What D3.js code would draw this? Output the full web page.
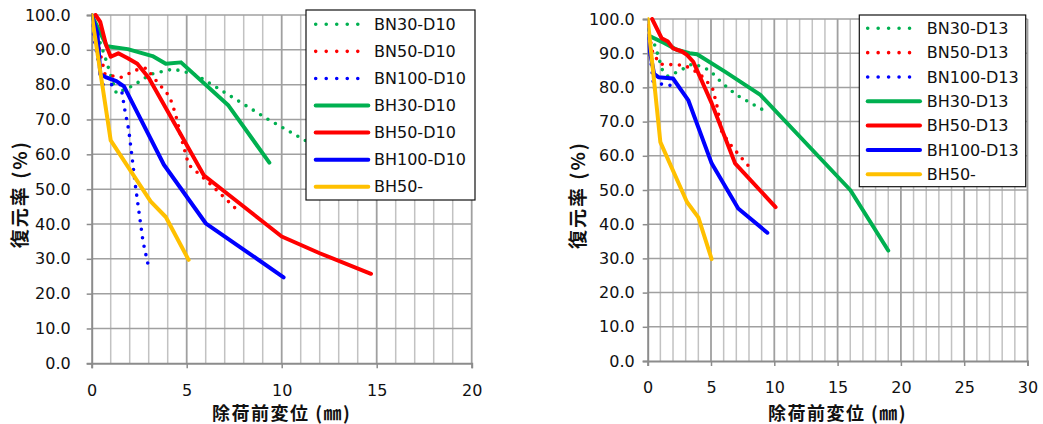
<!DOCTYPE html>
<html>
<head>
<meta charset="utf-8">
<script src="https://cdn.jsdelivr.net/npm/d3@7"></script>
<style>
  body { margin: 0; background: #fff; }
  svg { display: block; }
  .tick text { font-family: "DejaVu Sans", sans-serif; font-size: 16px; fill: #111; }
  .legend text { font-family: "DejaVu Sans", sans-serif; font-size: 16px; fill: #111; }
  .title { font-family: "Noto Sans CJK JP", sans-serif; font-weight: bold; fill: #111; }
</style>
</head>
<body>
<div class="charts"></div>
<script>
// --- data (x: 除荷前変位 mm, y: 復元率 %) ---
var yTicks = [0, 10, 20, 30, 40, 50, 60, 70, 80, 90, 100]
var xTicksLeft = [0, 5, 10, 15, 20]
var xTicksRight = [0, 5, 10, 15, 20, 25, 30]

var namesLeft = ["BN30-D10", "BN50-D10", "BN100-D10", "BH30-D10", "BH50-D10", "BH100-D10", "BH50-"]
var namesRight = ["BN30-D13", "BN50-D13", "BN100-D13", "BH30-D13", "BH50-D13", "BH100-D13", "BH50-"]
var colors = ["#00b050", "#ff0000", "#0000ff", "#00b050", "#ff0000", "#0000ff", "#ffc000"]
var dotted = [true, true, true, false, false, false, false]

var bn30_d10 = [[0,99],[0.7,88],[1.3,77.5],[2.2,79.8],[3.1,83],[4.3,84.5],[5.5,82.8],[9.3,70],[11.3,63.8]]
var bn50_d10 = [[0,100],[0.7,83],[1.5,82],[2.4,84.3],[2.9,84.8],[3.2,82.4],[4.1,76.6],[4.4,71.8],[4.75,64],[5.1,57],[6.2,51.7],[7.6,44.3]]
var bn100_d10 = [[0,97],[0.3,88],[0.6,80],[1.5,80],[1.6,77.5],[1.75,72.5],[1.95,67],[2.15,58],[2.3,51],[2.5,43],[2.7,35],[3.0,27.5]]
var bh30_d10 = [[0,100],[0.8,91],[1.9,90.2],[3.2,88.2],[3.9,86],[4.7,86.4],[7.2,74],[9.35,57.6]]
var bh50_d10 = [[0.2,100],[0.45,98],[0.75,91.5],[1,88],[1.4,89],[1.9,87.6],[2.4,86],[3,82],[5.9,54],[10,36.4],[12,31.6],[14.7,25.7]]
var bh100_d10 = [[0,100],[0.3,94.7],[0.4,87.6],[0.45,83],[0.8,82],[1.3,81],[1.7,79.5],[3.8,57],[6,40.2],[10.1,24.7]]
var bh50_left = [[0,100],[1,64],[3.1,46.5],[3.9,42],[5.1,29.7]]

var bn30_d13 = [[0,97],[0.6,92],[1.2,84.6],[1.6,83.3],[2.2,84.3],[2.9,85.6],[3.6,87],[4.9,85],[5.9,81.2],[7,77.8],[8.3,75.1],[9.5,72.6]]
var bn50_d13 = [[0,98],[0.4,90],[1,86.8],[2.9,86.5],[4.1,84],[5.1,80],[5.45,75],[5.85,67],[6.55,63.2],[7.5,59],[7.95,57.1]]
var bn100_d13 = [[0,96.8],[0.2,90],[0.3,86],[0.5,79.5],[1,81],[1.7,80.7],[2.3,79.7]]
var bh30_d13 = [[0.15,95],[1.3,93],[2.3,91],[3.3,90],[3.9,89.7],[6.1,84.6],[8.9,77.8],[16,50],[19,32.3]]
var bh50_d13 = [[0.35,100],[1.1,94.4],[1.6,93.4],[2,91.4],[2.7,90.5],[3.1,89.5],[3.6,87.5],[5.05,75.4],[6.9,57.8],[10.1,45]]
var bh100_d13 = [[0,95],[0.2,90],[0.5,84],[0.85,83],[2,82.6],[3.2,76.3],[5.05,57.8],[7.15,44.6],[9.45,37.5]]
var bh50_right = [[0,100],[1,64],[3.1,46.5],[4,42],[5.05,29.8]]

var svg = d3.select(".charts").append("svg").attr("width", 1043).attr("height", 424)

function drawChart(id, cfg) {
  var x = d3.scaleLinear().domain([0, cfg.xMax]).range([cfg.x0, cfg.x1])
  var y = d3.scaleLinear().domain([0, 100]).range([cfg.y0, cfg.y1])
  var g = svg.append("g")

  // grid: minor verticals every 1mm, major every 5mm, horizontals every 10%
  g.selectAll(".vminor").data(d3.range(1, cfg.xMax).filter(d => d % 5 != 0)).enter()
    .append("line")
    .attr("x1", d => x(d)).attr("x2", d => x(d))
    .attr("y1", y(0)).attr("y2", y(100))
    .attr("stroke", "#c2c2c2").attr("stroke-width", 1.5)
  g.selectAll(".vmajor").data(cfg.xTicks.filter(d => d > 0)).enter()
    .append("line")
    .attr("x1", d => x(d)).attr("x2", d => x(d))
    .attr("y1", y(0)).attr("y2", y(100))
    .attr("stroke", "#a0a0a0").attr("stroke-width", 1.8)
  g.selectAll(".hgrid").data(yTicks.filter(d => d > 0)).enter()
    .append("line")
    .attr("x1", x(0)).attr("x2", x(cfg.xMax))
    .attr("y1", d => y(d)).attr("y2", d => y(d))
    .attr("stroke", "#a0a0a0").attr("stroke-width", 1.5)

  // axes
  var ya = g.append("g").attr("transform", "translate(" + x(0) + ",0)")
    .call(d3.axisLeft(y).tickValues(yTicks).tickFormat(d3.format(".1f")).tickSize(5).tickPadding(cfg.yPad))
  var xa = g.append("g").attr("transform", "translate(0," + y(0) + ")")
    .call(d3.axisBottom(x).tickValues(cfg.xTicks).tickFormat(d3.format("d")).tickSize(5).tickPadding(cfg.xPad))
  ;[ya, xa].forEach(a => {
    a.select(".domain").attr("stroke", "#8c8c8c").attr("stroke-width", 2)
    a.selectAll(".tick line").attr("stroke", "#8c8c8c").attr("stroke-width", 1.5)
    a.selectAll("text").attr("font-family", null).attr("font-size", null)
  })

  // clip
  svg.append("clipPath").attr("id", id)
    .append("rect").attr("x", x(0)).attr("y", y(100) - 2)
    .attr("width", x(cfg.xMax) - x(0) + 2).attr("height", y(0) - y(100) + 2)

  var line = d3.line().x(d => x(d[0])).y(d => y(d[1]))
  var series = g.append("g").attr("clip-path", "url(#" + id + ")")
  cfg.data.forEach((s, i) => {
    var p = series.append("path").datum(s).attr("d", line)
      .attr("fill", "none").attr("stroke", colors[i])
      .attr("stroke-linejoin", "round").attr("stroke-linecap", "round")
    if (dotted[i]) p.attr("stroke-width", 3.6).attr("stroke-dasharray", "0 8.6")
    else p.attr("stroke-width", 4)
  })

  // titles
  g.append("text").attr("class", "title")
    .attr("transform", "translate(" + cfg.yTitleX + "," + (y(50) + 5) + ") rotate(-90)")
    .attr("text-anchor", "middle").attr("dominant-baseline", "central")
    .style("font-size", "19px").style("letter-spacing", "2px")
    .text("復元率 (%)")
  g.append("text").attr("class", "title")
    .attr("x", (x(0) + x(cfg.xMax)) / 2).attr("y", cfg.xTitleY)
    .attr("text-anchor", "middle")
    .style("font-size", "18px").style("letter-spacing", "1.5px")
    .text("除荷前変位 (㎜)")

  // legend
  var L = cfg.legend
  var lg = g.append("g").attr("class", "legend")
  lg.append("rect").attr("x", L.x).attr("y", L.y).attr("width", L.w).attr("height", L.h)
    .attr("fill", "#fff").attr("stroke", "#111").attr("stroke-width", 1.2)
  cfg.names.forEach((n, i) => {
    var ry = L.row0 + L.step * i
    var ln = lg.append("line").attr("x1", L.s0).attr("x2", L.s1).attr("y1", ry).attr("y2", ry)
      .attr("stroke", colors[i]).attr("stroke-linecap", "round")
    if (dotted[i]) ln.attr("stroke-width", 3.6).attr("stroke-dasharray", "0 " + ((L.s1 - L.s0) / 5))
    else ln.attr("stroke-width", 4)
    lg.append("text").attr("x", L.tx).attr("y", ry).attr("dy", "0.36em").text(n)
  })
}

drawChart("clipL", {
  xMax: 20, x0: 91.7, x1: 471.7, y0: 363.3, y1: 15,
  xTicks: xTicksLeft, yPad: 16, xPad: 16,
  yTitleX: 18, xTitleY: 420,
  names: namesLeft,
  data: [bn30_d10, bn50_d10, bn100_d10, bh30_d10, bh50_d10, bh100_d10, bh50_left],
  legend: { x: 306, y: 10, w: 169, h: 190, row0: 24.3, step: 27.07, s0: 315.7, s1: 368.3, tx: 374 }
})

drawChart("clipR", {
  xMax: 30, x0: 647.7, x1: 1027.5, y0: 361, y1: 19,
  xTicks: xTicksRight, yPad: 8, xPad: 16,
  yTitleX: 576, xTitleY: 420,
  names: namesRight,
  data: [bn30_d13, bn50_d13, bn100_d13, bh30_d13, bh50_d13, bh100_d13, bh50_right],
  legend: { x: 859.3, y: 15, w: 166.4, h: 171.7, row0: 28.3, step: 24.33, s0: 867.7, s1: 920, tx: 926.7 }
})
</script>
</body>
</html>
